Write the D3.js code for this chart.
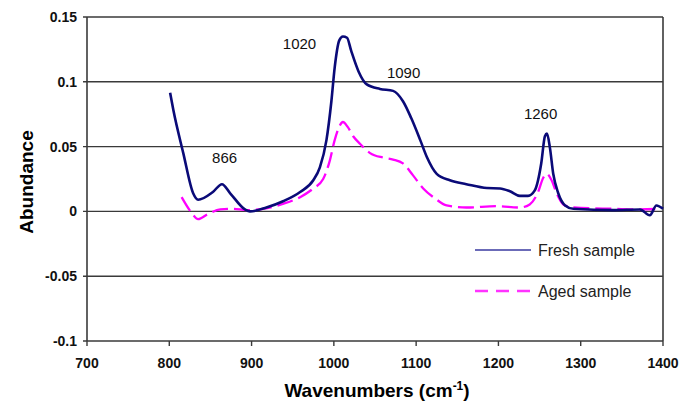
<!DOCTYPE html>
<html lang="en">
<head>
    <meta charset="UTF-8">
    <title>FTIR spectra - fresh vs aged sample</title>
    <script src="https://d3js.org/d3.v7.min.js"></script>
    <style>
        body { margin: 0; background: #fff; }
        svg { font-family: Arial, 'Liberation Sans', sans-serif; }
        .tick-label { font-size: 14px; font-weight: bold; fill: #111; }
        .axis-title { font-size: 19px; font-weight: bold; fill: #000; }
        .peak { font-size: 15px; fill: #111; }
        .legend-text { font-size: 16px; fill: #222; }
    </style>
</head>
<body>
<div id="chart"></div>
<script>
    // wavenumber / abundance pairs
    const freshWave = [801, 805, 817, 829, 835, 853, 864, 874, 892, 898, 918, 939, 959, 975, 983, 991, 997, 1001,
        1006.6, 1011, 1016, 1021, 1030, 1040, 1056, 1072, 1084, 1094, 1105, 1113, 1125, 1141, 1161, 1186, 1202,
        1214, 1226, 1236, 1244, 1252, 1256.5, 1259, 1262.6, 1266.6, 1272.7, 1281, 1291, 1340, 1372, 1384, 1392, 1400];
    const freshVals = [0.0915, 0.078, 0.045, 0.014, 0.009, 0.015, 0.021, 0.014, 0.0015, 0, 0.003, 0.008, 0.015, 0.024,
        0.034, 0.055, 0.085, 0.111, 0.132, 0.135, 0.134, 0.124, 0.108, 0.098, 0.0945, 0.093, 0.085, 0.072, 0.055,
        0.042, 0.029, 0.024, 0.021, 0.018, 0.0177, 0.0155, 0.012, 0.012, 0.016, 0.037, 0.058, 0.06, 0.049, 0.029,
        0.014, 0.0046, 0.002, 0.001, 0.0015, -0.003, 0.0046, 0.002];

    const agedWave = [815, 827, 835, 847, 862, 878, 894, 914, 939, 959, 975, 987, 995, 1001, 1007, 1011, 1017, 1023.5,
        1032, 1044, 1060, 1072, 1084, 1096, 1108.6, 1123, 1137, 1161, 1198, 1226, 1238, 1248, 1254.5, 1258.6, 1264.6,
        1270.7, 1278.8, 1291, 1340, 1372, 1396];
    const agedVals = [0.011, -0.001, -0.006, -0.002, 0.0015, 0.002, 0.001, 0.002, 0.006, 0.011, 0.0177, 0.025, 0.039,
        0.055, 0.066, 0.069, 0.065, 0.058, 0.052, 0.045, 0.0415, 0.04, 0.037, 0.028, 0.0177, 0.01, 0.0046, 0.003,
        0.004, 0.003, 0.0054, 0.0146, 0.026, 0.029, 0.024, 0.014, 0.0054, 0.003, 0.002, 0.0015, 0.002];

    const xTicks = [700, 800, 900, 1000, 1100, 1200, 1300, 1400];
    const yTicks = [-0.1, -0.05, 0, 0.05, 0.1, 0.15];
    const yTickLabels = ["-0.1", "-0.05", "0", "0.05", "0.1", "0.15"];

    // peak labels: left edge of the text (wavenumber) and vertical centre (abundance)
    const peakLabels = ["866", "1020", "1090", "1260"];
    const peakWave = [852, 938, 1064.5, 1231];
    const peakVals = [0.0415, 0.129, 0.107, 0.075];

    const seriesNames = ["Fresh sample", "Aged sample"];

    // layout
    const W = 695, H = 401;
    const margin = { top: 17, right: 32, bottom: 60, left: 87 };
    const width = W - margin.left - margin.right;
    const height = H - margin.top - margin.bottom;

    const svg = d3.select("#chart").append("svg")
        .attr("width", W)
        .attr("height", H);

    const g = svg.append("g")
        .attr("transform", `translate(${margin.left},${margin.top})`);

    const x = d3.scaleLinear().domain([700, 1400]).range([0, width]);
    const y = d3.scaleLinear().domain([-0.1, 0.15]).range([height, 0]);

    const gridColor = "#3a3a3a";

    // horizontal gridlines (0.15 is the top edge)
    g.selectAll(".grid")
        .data(yTicks.filter(d => d > -0.1))
        .enter().append("line")
        .attr("x1", -4).attr("x2", width)
        .attr("y1", d => y(d)).attr("y2", d => y(d))
        .attr("stroke", gridColor)
        .attr("stroke-width", 1.4);

    // left axis, bottom axis, right border
    g.append("line")
        .attr("x1", 0).attr("x2", 0).attr("y1", 0).attr("y2", height)
        .attr("stroke", gridColor).attr("stroke-width", 1.6);
    g.append("line")
        .attr("x1", -4).attr("x2", width).attr("y1", height).attr("y2", height)
        .attr("stroke", gridColor).attr("stroke-width", 1.6);
    g.append("line")
        .attr("x1", width).attr("x2", width).attr("y1", 0).attr("y2", height)
        .attr("stroke", gridColor).attr("stroke-width", 1.6);

    // x ticks + labels
    g.selectAll(".xtick")
        .data(xTicks)
        .enter().append("line")
        .attr("x1", d => x(d)).attr("x2", d => x(d))
        .attr("y1", height).attr("y2", height + 5)
        .attr("stroke", gridColor).attr("stroke-width", 1.4);

    g.selectAll(".xlab")
        .data(xTicks)
        .enter().append("text")
        .attr("class", "tick-label")
        .attr("x", d => x(d))
        .attr("y", height + 27)
        .attr("text-anchor", "middle")
        .text(d => d);

    g.selectAll(".ylab")
        .data(yTicks)
        .enter().append("text")
        .attr("class", "tick-label")
        .attr("x", -10)
        .attr("y", d => y(d))
        .attr("dy", "0.35em")
        .attr("text-anchor", "end")
        .text((d, i) => yTickLabels[i]);

    // axis titles
    svg.append("text")
        .attr("class", "axis-title")
        .attr("transform", `translate(33,${margin.top + height / 2 + 3}) rotate(-90)`)
        .attr("text-anchor", "middle")
        .text("Abundance");

    const xt = svg.append("text")
        .attr("class", "axis-title")
        .attr("x", margin.left + width / 2 + 2)
        .attr("y", 397)
        .attr("text-anchor", "middle");
    xt.append("tspan").text("Wavenumbers (cm");
    xt.append("tspan").attr("font-size", "12px").attr("dy", -7).text("-1");
    xt.append("tspan").attr("dy", 7).text(")");

    // spectra
    const fresh = freshWave.map((w, i) => [w, freshVals[i]]);
    const aged = agedWave.map((w, i) => [w, agedVals[i]]);

    const line = d3.line()
        .x(d => x(d[0]))
        .y(d => y(d[1]))
        .curve(d3.curveMonotoneX);

    g.append("path")
        .datum(aged)
        .attr("d", line)
        .attr("fill", "none")
        .attr("stroke", "#ff00ff")
        .attr("stroke-width", 2.3)
        .attr("stroke-dasharray", "16,6");

    g.append("path")
        .datum(fresh)
        .attr("d", line)
        .attr("fill", "none")
        .attr("stroke", "#0a0a78")
        .attr("stroke-width", 2.6);

    // peak annotations
    g.selectAll(".peak")
        .data(peakLabels)
        .enter().append("text")
        .attr("class", "peak")
        .attr("x", (d, i) => x(peakWave[i]))
        .attr("y", (d, i) => y(peakVals[i]))
        .attr("dy", "0.35em")
        .text(d => d);

    // legend
    const legend = svg.append("g").attr("transform", "translate(475,250)");
    legend.append("line")
        .attr("x1", 0).attr("x2", 56).attr("y1", 0).attr("y2", 0)
        .attr("stroke", "#3a3aa0").attr("stroke-width", 1.6);
    legend.append("line")
        .attr("x1", 0).attr("x2", 56).attr("y1", 41).attr("y2", 41)
        .attr("stroke", "#ff33ff").attr("stroke-width", 2.4)
        .attr("stroke-dasharray", "13,8");
    legend.selectAll(".legend-text")
        .data(seriesNames)
        .enter().append("text")
        .attr("class", "legend-text")
        .attr("x", 63)
        .attr("y", (d, i) => i * 41)
        .attr("dy", "0.35em")
        .text(d => d);
</script>
</body>
</html>
